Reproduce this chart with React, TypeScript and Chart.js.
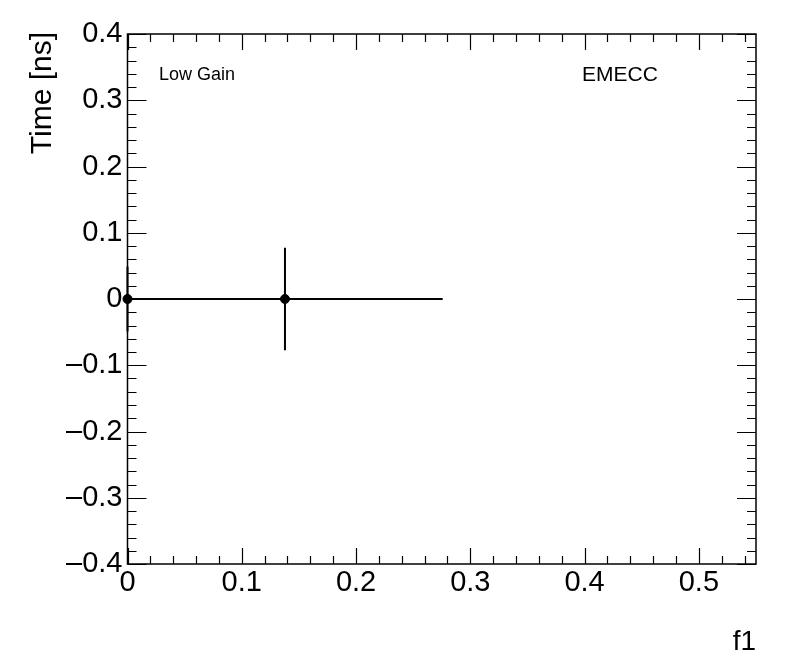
import React, { useEffect, useRef } from "react";
import { Chart, registerables } from "chart.js";

Chart.register(...registerables);

const xValues = [0, 0.1378];
const yValues = [0, 0];
const xErrors = [0, 0.138];
const yErrors = [0.049, 0.0775];

const xMin = 0;
const xMax = 0.55;
const yMin = -0.4;
const yMax = 0.4;
const xMajorStep = 0.1;
const xMinorStep = 0.02;
const yMajorStep = 0.1;
const yMinorStep = 0.02;

const yTitle = "Time [ns]";
const xTitle = "f1";
const leftLabel = "Low Gain";
const rightLabel = "EMECC";

const FONT = "'Liberation Sans', Arial, Helvetica, sans-serif";

function fmt(v: number): string {
  const r = Math.round(v * 10) / 10;
  if (Math.abs(r) < 1e-9) return "0";
  const s = Math.abs(r).toFixed(1);
  return r < 0 ? "\u2013" + s : s;
}

const rootPlugin = {
  id: "rootStyle",
  beforeDatasetsDraw(chart: any) {
    const { ctx, chartArea } = chart;
    const xs = chart.scales.x;
    const ys = chart.scales.y;
    ctx.save();
    ctx.strokeStyle = "#000";
    ctx.lineWidth = 2;
    for (let i = 0; i < xValues.length; i++) {
      const px = xs.getPixelForValue(xValues[i]);
      const py = ys.getPixelForValue(yValues[i]);
      const x0 = Math.max(chartArea.left, xs.getPixelForValue(xValues[i] - xErrors[i]));
      const x1 = Math.min(chartArea.right, xs.getPixelForValue(xValues[i] + xErrors[i]));
      const y0 = ys.getPixelForValue(yValues[i] + yErrors[i]);
      const y1 = ys.getPixelForValue(yValues[i] - yErrors[i]);
      ctx.beginPath();
      if (x1 > x0) {
        ctx.moveTo(x0, py);
        ctx.lineTo(x1, py);
      }
      ctx.moveTo(px, y0);
      ctx.lineTo(px, y1);
      ctx.stroke();
    }
    ctx.restore();
  },
  afterDraw(chart: any) {
    const { ctx, chartArea } = chart;
    const xs = chart.scales.x;
    const ys = chart.scales.y;
    const { left, right, top, bottom } = chartArea;
    ctx.save();
    ctx.strokeStyle = "#000";
    ctx.lineWidth = 1.5;
    ctx.strokeRect(left, top, right - left, bottom - top);
    ctx.lineWidth = 1.2;
    ctx.beginPath();
    const nx = Math.round((xMax - xMin) / xMinorStep);
    for (let i = 0; i <= nx; i++) {
      const v = xMin + i * xMinorStep;
      if (v > xMax + 1e-9) break;
      const major = Math.abs(v / xMajorStep - Math.round(v / xMajorStep)) < 1e-6;
      const len = major ? 16 : 8;
      const p = Math.round(xs.getPixelForValue(v)) + 0.5;
      ctx.moveTo(p, bottom);
      ctx.lineTo(p, bottom - len);
      ctx.moveTo(p, top);
      ctx.lineTo(p, top + len);
    }
    const ny = Math.round((yMax - yMin) / yMinorStep);
    for (let i = 0; i <= ny; i++) {
      const v = yMin + i * yMinorStep;
      const major = Math.abs(v / yMajorStep - Math.round(v / yMajorStep)) < 1e-6;
      const len = major ? 19 : 9;
      const p = Math.round(ys.getPixelForValue(v)) + 0.5;
      ctx.moveTo(left, p);
      ctx.lineTo(left + len, p);
      ctx.moveTo(right, p);
      ctx.lineTo(right - len, p);
    }
    ctx.stroke();

    ctx.fillStyle = "#000";
    ctx.textBaseline = "alphabetic";
    ctx.font = `18px ${FONT}`;
    ctx.textAlign = "left";
    ctx.fillText(leftLabel, 159, 80);
    ctx.font = `21px ${FONT}`;
    ctx.fillText(rightLabel, 582, 81);

    ctx.font = `28px ${FONT}`;
    ctx.textAlign = "right";
    ctx.fillText(xTitle, right, 650);

    ctx.save();
    ctx.font = `30px ${FONT}`;
    ctx.translate(51, 32);
    ctx.rotate(-Math.PI / 2);
    ctx.textAlign = "right";
    ctx.fillText(yTitle, 0, 0);
    ctx.restore();
    ctx.restore();
  },
};

export default function App() {
  const ref = useRef<HTMLCanvasElement | null>(null);
  useEffect(() => {
    document.body.style.margin = "0";
    const canvas = ref.current;
    if (!canvas) return;
    const chart = new Chart(canvas, {
      type: "scatter",
      data: {
        datasets: [
          {
            data: xValues.map((x, i) => ({ x, y: yValues[i] })),
            backgroundColor: "#000",
            borderColor: "#000",
            pointRadius: 4.5,
            pointHoverRadius: 4.5,
            showLine: false,
            clip: false as any,
          },
        ],
      },
      options: {
        animation: false,
        responsive: false,
        maintainAspectRatio: false,
        events: [],
        layout: { padding: { left: 0, top: 34, right: 40, bottom: 0 } },
        plugins: {
          legend: { display: false },
          tooltip: { enabled: false },
          title: { display: false },
        },
        scales: {
          x: {
            type: "linear",
            min: xMin,
            max: xMax,
            grid: { display: false, drawTicks: false, tickLength: 0 },
            border: { display: false },
            ticks: {
              stepSize: xMajorStep,
              includeBounds: false,
              maxRotation: 0,
              autoSkip: false,
              padding: 2,
              color: "#000",
              font: { family: FONT, size: 29 },
              callback: (v: any) => (Number(v) > 0.51 ? "" : fmt(Number(v))),
            },
            afterFit: (s: any) => {
              s.height = 108;
            },
          },
          y: {
            type: "linear",
            min: yMin,
            max: yMax,
            grid: { display: false, drawTicks: false, tickLength: 0 },
            border: { display: false },
            ticks: {
              stepSize: yMajorStep,
              autoSkip: false,
              padding: 5,
              color: "#000",
              font: { family: FONT, size: 29 },
              callback: (v: any) => fmt(Number(v)),
            },
            afterFit: (s: any) => {
              s.width = 127.5;
            },
          },
        },
      },
      plugins: [rootPlugin],
    });
    return () => chart.destroy();
  }, []);
  return (
    <div style={{ position: "fixed", left: 0, top: 0, width: 796, height: 672, background: "#fff" }}>
      <canvas ref={ref} width={796} height={672} style={{ width: 796, height: 672, display: "block" }} />
    </div>
  );
}
